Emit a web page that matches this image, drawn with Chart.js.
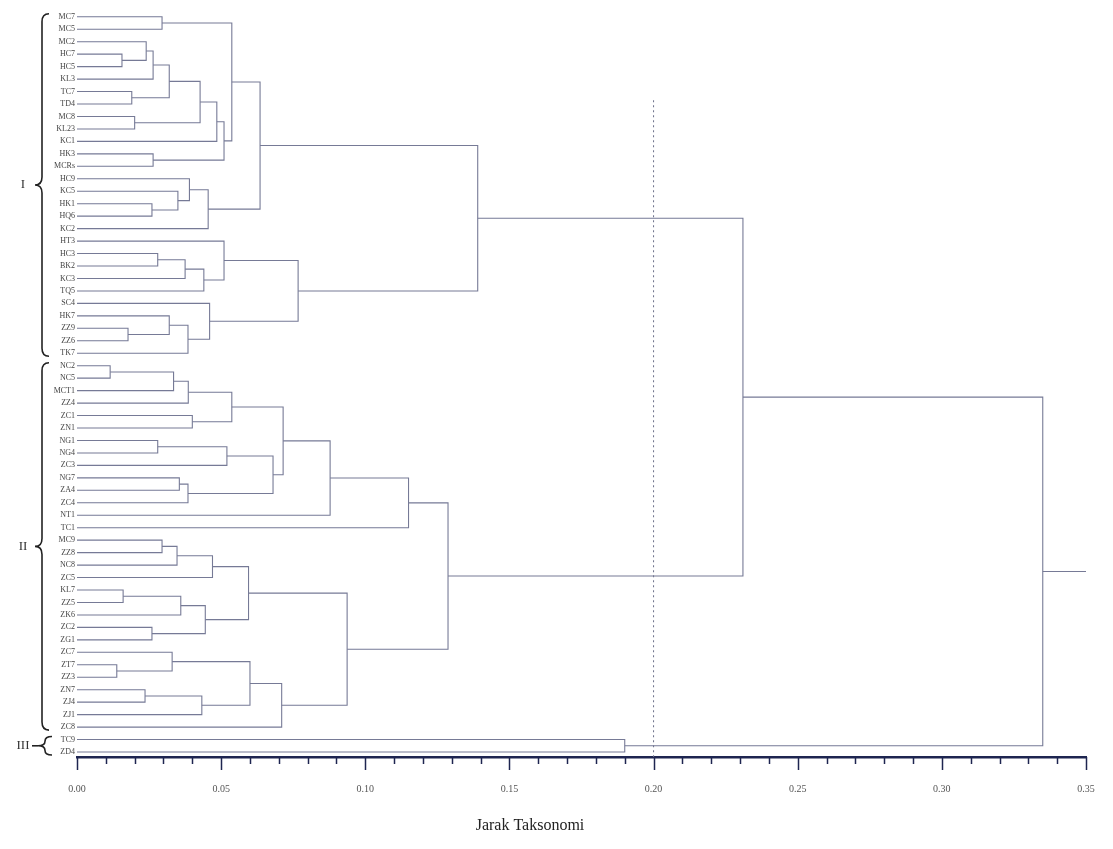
<!DOCTYPE html>
<html>
<head>
<meta charset="utf-8">
<script src="https://cdn.jsdelivr.net/npm/chart.js@4.4.1/dist/chart.umd.min.js"></script>
<style>
  body { margin: 0; background: #fff; }
  #wrap { width: 1113px; height: 849px; position: relative; }
</style>
</head>
<body>
<div id="wrap"><canvas id="dendro"></canvas></div>
<script>
// Label daun (urutan dari atas ke bawah)
const leafLabels = [
    // kelompok I
    'MC7', 'MC5', 'MC2', 'HC7', 'HC5', 'KL3', 'TC7', 'TD4', 'MC8', 'KL23',
    'KC1', 'HK3', 'MCRs', 'HC9', 'KC5', 'HK1', 'HQ6', 'KC2', 'HT3', 'HC3',
    'BK2', 'KC3', 'TQ5', 'SC4', 'HK7', 'ZZ9', 'ZZ6', 'TK7',
    // kelompok II
    'NC2', 'NC5', 'MCT1', 'ZZ4', 'ZC1', 'ZN1', 'NG1', 'NG4', 'ZC3', 'NG7',
    'ZA4', 'ZC4', 'NT1', 'TC1', 'MC9', 'ZZ8', 'NC8', 'ZC5', 'KL7', 'ZZ5',
    'ZK6', 'ZC2', 'ZG1', 'ZC7', 'ZT7', 'ZZ3', 'ZN7', 'ZJ4', 'ZJ1', 'ZC8',
    // kelompok III
    'TC9', 'ZD4'
];

// Penggabungan: [nama, kiri, kanan, jarak]  (angka = indeks daun, teks = node sebelumnya)
const merges = [
    ['A', 0, 1, 0.0295],
    ['B', 3, 4, 0.0156],
    ['B2', 2, 'B', 0.024],
    ['B3', 'B2', 5, 0.0264],
    ['C', 6, 7, 0.019],
    ['E', 'B3', 'C', 0.032],
    ['F', 8, 9, 0.020],
    ['G', 'E', 'F', 0.0427],
    ['H', 'G', 10, 0.0485],
    ['I', 11, 12, 0.0264],
    ['J', 'H', 'I', 0.051],
    ['K', 'A', 'J', 0.0537],
    ['L', 15, 16, 0.026],
    ['M', 14, 'L', 0.035],
    ['N', 13, 'M', 0.039],
    ['O', 'N', 17, 0.0455],
    ['P', 'K', 'O', 0.0635],
    ['Q', 19, 20, 0.028],
    ['R', 'Q', 21, 0.0375],
    ['S', 'R', 22, 0.044],
    ['T', 18, 'S', 0.051],
    ['U', 25, 26, 0.0177],
    ['V', 24, 'U', 0.032],
    ['W', 'V', 27, 0.0385],
    ['X', 23, 'W', 0.046],
    ['Y', 'T', 'X', 0.0767],
    ['Z', 'P', 'Y', 0.139],
    ['a', 28, 29, 0.0115],
    ['b', 'a', 30, 0.0335],
    ['c', 'b', 31, 0.0386],
    ['d', 32, 33, 0.040],
    ['e', 'c', 'd', 0.0537],
    ['f', 34, 35, 0.028],
    ['g', 'f', 36, 0.052],
    ['h', 37, 38, 0.0355],
    ['h2', 'h', 39, 0.0385],
    ['i', 'g', 'h2', 0.068],
    ['j', 'e', 'i', 0.0715],
    ['k', 'j', 40, 0.0878],
    ['l', 'k', 41, 0.115],
    ['m', 42, 43, 0.0295],
    ['n', 'm', 44, 0.0347],
    ['o', 'n', 45, 0.047],
    ['p', 46, 47, 0.016],
    ['q', 'p', 48, 0.036],
    ['r', 49, 50, 0.026],
    ['s', 'q', 'r', 0.0445],
    ['t', 'o', 's', 0.0595],
    ['u', 52, 53, 0.0138],
    ['v', 51, 'u', 0.033],
    ['w', 54, 55, 0.0236],
    ['x', 'w', 56, 0.0433],
    ['y', 'v', 'x', 0.060],
    ['z', 'y', 57, 0.071],
    ['aa', 't', 'z', 0.0937],
    ['bb', 'l', 'aa', 0.1287],
    ['cc', 'Z', 'bb', 0.231],
    ['dd', 58, 59, 0.190],
    ['root', 'cc', 'dd', 0.335]
];

const groups = [
    { name: 'I', from: 0, to: 27 },
    { name: 'II', from: 28, to: 57 },
    { name: 'III', from: 58, to: 59 }
];

const xMax = 0.35;       // ujung sumbu & ekor akar
const cutLine = 0.20;    // garis potong putus-putus
const cutTop = 6.7;      // baris tempat garis potong dimulai
const axisTitle = 'Jarak Taksonomi';

const lineColor = '#767a96';
const axisColor = '#1e2550';
const serif = "'Liberation Serif', 'DejaVu Serif', serif";

// bangun segmen dendrogram
const nodes = {};
const getNode = (ref) => (typeof ref === 'number') ? { h: 0, y: ref } : nodes[ref];
const datasets = [];

merges.forEach(([name, left, right, h]) => {
    const a = getNode(left);
    const b = getNode(right);
    nodes[name] = { h: h, y: (a.y + b.y) / 2 };
    datasets.push({
        data: [
            { x: a.h, y: a.y }, { x: h, y: a.y },
            { x: h, y: b.y }, { x: b.h, y: b.y }
        ],
        borderColor: lineColor, borderWidth: 1.1
    });
});

const root = nodes['root'];
datasets.push({
    data: [{ x: root.h, y: root.y }, { x: xMax, y: root.y }],
    borderColor: lineColor, borderWidth: 1.1
});
datasets.push({
    data: [{ x: cutLine, y: cutTop }, { x: cutLine, y: leafLabels.length - 0.6 }],
    borderColor: '#6a6e88', borderWidth: 1, borderDash: [2, 3]
});

// tick minor/mayor di bawah sumbu x + judul sumbu (agak ke kiri seperti aslinya)
const axisTicks = {
    id: 'axisTicks',
    afterDraw(chart) {
        const ctx = chart.ctx;
        const xs = chart.scales.x;
        const y0 = chart.chartArea.bottom;
        ctx.save();
        ctx.strokeStyle = axisColor;
        ctx.lineWidth = 1.5;
        for (let i = 0; i <= Math.round(xMax * 100); i++) {
            const px = Math.round(xs.getPixelForValue(i / 100)) + 0.5;
            const len = (i % 5 === 0) ? 13 : 7;
            ctx.beginPath();
            ctx.moveTo(px, y0);
            ctx.lineTo(px, y0 + len);
            ctx.stroke();
        }
        ctx.fillStyle = '#222';
        ctx.font = '16px ' + serif;
        ctx.textAlign = 'center';
        ctx.textBaseline = 'middle';
        ctx.fillText(axisTitle, 530, 826);
        ctx.restore();
    }
};

// kurung kurawal kelompok
const drawBrace = (ctx, x, y1, y2, w) => {
    const ym = (y1 + y2) / 2;
    const sx = x + w / 2;
    const r = Math.min(8, (y2 - y1) / 4);
    ctx.beginPath();
    ctx.moveTo(x + w, y1);
    ctx.quadraticCurveTo(sx, y1, sx, y1 + r);
    ctx.lineTo(sx, ym - r);
    ctx.quadraticCurveTo(sx, ym, x, ym);
    ctx.quadraticCurveTo(sx, ym, sx, ym + r);
    ctx.lineTo(sx, y2 - r);
    ctx.quadraticCurveTo(sx, y2, x + w, y2);
    ctx.stroke();
};

const groupBraces = {
    id: 'groupBraces',
    afterDraw(chart) {
        const ctx = chart.ctx;
        const ys = chart.scales.y;
        ctx.save();
        ctx.strokeStyle = '#222';
        ctx.fillStyle = '#333';
        ctx.lineWidth = 1.6;
        ctx.font = '13px ' + serif;
        ctx.textAlign = 'center';
        ctx.textBaseline = 'middle';
        groups.forEach((g) => {
            const y1 = ys.getPixelForValue(g.from) - 3;
            const y2 = ys.getPixelForValue(g.to) + 3;
            const ym = (y1 + y2) / 2;
            const small = g.to - g.from < 3;
            const bx = small ? 38 : 35;
            drawBrace(ctx, bx, y1, y2, 14);
            ctx.fillText(g.name, 23, ym);
            if (small) {
                ctx.beginPath();
                ctx.moveTo(32, ym);
                ctx.lineTo(38, ym);
                ctx.stroke();
            }
        });
        ctx.restore();
    }
};

new Chart(document.getElementById('dendro'), {
    type: 'scatter',
    data: { datasets: datasets },
    plugins: [axisTicks, groupBraces],
    options: {
        responsive: true,
        maintainAspectRatio: false,
        animation: false,
        showLine: true,
        layout: { padding: { top: 6, right: 27, left: 0, bottom: 0 } },
        elements: { point: { radius: 0, hoverRadius: 0 }, line: { tension: 0 } },
        plugins: { legend: { display: false }, tooltip: { enabled: false } },
        scales: {
            x: {
                type: 'linear', min: 0, max: xMax,
                afterFit: (s) => { s.height = 92; s.paddingLeft = 0; s.paddingRight = 0; },
                grid: { display: false, drawTicks: false },
                border: { display: true, color: axisColor, width: 2.5 },
                ticks: {
                    stepSize: 0.01, autoSkip: false, maxRotation: 0, padding: 26,
                    color: '#555', font: { family: serif, size: 10 },
                    callback: (v) => Math.abs(v * 20 - Math.round(v * 20)) < 1e-6 ? v.toFixed(2) : ''
                },
                title: { display: false }
            },
            y: {
                type: 'linear', min: -0.8, max: leafLabels.length - 0.6, reverse: true,
                afterFit: (s) => { s.width = 77; },
                afterBuildTicks: (s) => { s.ticks = leafLabels.map((_, i) => ({ value: i })); },
                grid: { display: false, drawTicks: false },
                border: { display: false },
                ticks: {
                    autoSkip: false, padding: 2, color: '#444',
                    font: { family: serif, size: 8 },
                    callback: (v) => leafLabels[v]
                }
            }
        }
    }
});
</script>
</body>
</html>
